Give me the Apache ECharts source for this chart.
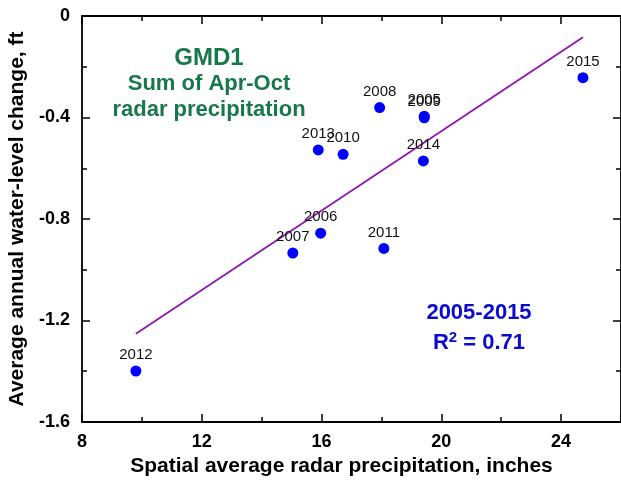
<!DOCTYPE html>
<html>
<head>
<meta charset="utf-8">
<script src="https://cdn.jsdelivr.net/npm/echarts@6/dist/echarts.min.js"></script>
<style>html,body{margin:0;padding:0;background:#fff;}#c{width:621px;height:480px;}</style>
</head>
<body>
<div id="c"></div>
<script>
// ---- data ----
var years  = ['2005','2006','2007','2008','2009','2010','2011','2012','2013','2014','2015'];
var precip = [19.43, 15.97, 15.04, 17.94, 19.43, 16.72, 18.08, 9.80, 15.89, 19.40, 24.73];
var change = [-0.395, -0.856, -0.934, -0.361, -0.401, -0.545, -0.916, -1.399, -0.528, -0.571, -0.243];
var xTicks = [8, 12, 16, 20, 24];
var yTicks = [0, -0.4, -0.8, -1.2, -1.6];
var titleLines = ['GMD1', 'Sum of Apr-Oct', 'radar precipitation'];
var statLines = ['2005-2015', 'R2 = 0.71'];

// least-squares fit computed from the data
var n = precip.length, mx = 0, my = 0;
for (var i = 0; i < n; i++) { mx += precip[i]; my += change[i]; }
mx /= n; my /= n;
var sxy = 0, sxx = 0;
for (var i = 0; i < n; i++) { sxy += (precip[i]-mx)*(change[i]-my); sxx += (precip[i]-mx)*(precip[i]-mx); }
var slope = sxy / sxx, icpt = my - slope * mx;
var xmin = Math.min.apply(null, precip), xmax = Math.max.apply(null, precip);
var fitLine = [[xmin, icpt + slope*xmin], [xmax, icpt + slope*xmax]];

var pts = years.map(function(y, i){ return {value:[precip[i], change[i]], name:y}; });

var FONT = '"Liberation Sans", Arial, sans-serif';
var axisBase = {
  axisLine: {show: true, onZero: false, lineStyle: {color: '#000', width: 1.8}},
  axisTick: {show: true, inside: true, length: 8, lineStyle: {color: '#000', width: 1.5}},
  minorTick: {show: true, splitNumber: 2, length: 5, lineStyle: {color: '#000', width: 1.5}},
  splitLine: {show: false},
  minorSplitLine: {show: false}
};
function ax(o){ var r = JSON.parse(JSON.stringify(axisBase)); for (var k in o) r[k] = o[k]; return r; }

var chart = echarts.init(document.getElementById('c'), null, {renderer: 'canvas'});
chart.setOption({
  animation: false,
  backgroundColor: '#fff',
  grid: {left: 82, right: 0, top: 16, bottom: 58, containLabel: false, outerBoundsMode: 'none'},
  xAxis: [
    ax({type: 'value', min: 8, max: 26, interval: 4, position: 'bottom',
        name: 'Spatial average radar precipitation, inches', nameLocation: 'middle', nameGap: 32,
        nameTextStyle: {fontFamily: FONT, fontWeight: 'bold', fontSize: 21, color: '#000', padding: [0, 20, 0, 0]},
        axisLabel: {fontFamily: FONT, fontWeight: 'bold', fontSize: 18, color: '#000', margin: 11,
          formatter: function(v){ return xTicks.indexOf(v) >= 0 ? String(v) : ''; }}}),
    ax({type: 'value', min: 8, max: 26, interval: 4, position: 'top', axisLabel: {show: false}})
  ],
  yAxis: [
    ax({type: 'value', min: -1.6, max: 0, interval: 0.4, position: 'left',
        name: 'Average annual water-level change, ft', nameLocation: 'middle', nameGap: 53, nameRotate: 90,
        nameTextStyle: {fontFamily: FONT, fontWeight: 'bold', fontSize: 21, color: '#000'},
        axisLabel: {fontFamily: FONT, fontWeight: 'bold', fontSize: 18, color: '#000', margin: 12,
          formatter: function(v){ var r = Math.round(v*10)/10; for (var j=0;j<yTicks.length;j++) if (Math.abs(yTicks[j]-r)<1e-9) return String(yTicks[j]); return ''; }}}),
    ax({type: 'value', min: -1.6, max: 0, interval: 0.4, position: 'right', axisLabel: {show: false}})
  ],
  series: [
    {type: 'line', data: fitLine, symbol: 'none', silent: true,
     lineStyle: {color: '#8e16b0', width: 1.8}, z: 2},
    {type: 'scatter', data: pts, symbol: 'circle', symbolSize: 11,
     itemStyle: {color: '#0000ff', opacity: 1}, z: 3,
     label: {show: true, position: 'top', distance: 3, formatter: '{b}',
             fontFamily: FONT, fontSize: 15, color: '#111'}}
  ],
  graphic: [
    {type: 'text', x: 209, y: 58, style: {text: titleLines[0], fontFamily: FONT, fontWeight: 'bold', fontSize: 24, fill: '#17784b', textAlign: 'center', textVerticalAlign: 'middle'}},
    {type: 'text', x: 209, y: 84, style: {text: titleLines[1], fontFamily: FONT, fontWeight: 'bold', fontSize: 22, fill: '#17784b', textAlign: 'center', textVerticalAlign: 'middle'}},
    {type: 'text', x: 209, y: 110, style: {text: titleLines[2], fontFamily: FONT, fontWeight: 'bold', fontSize: 22, fill: '#17784b', textAlign: 'center', textVerticalAlign: 'middle'}},
    {type: 'text', x: 479, y: 313, style: {text: statLines[0], fontFamily: FONT, fontWeight: 'bold', fontSize: 22, fill: '#0a0ad0', textAlign: 'center', textVerticalAlign: 'middle'}},
    {type: 'text', x: 479, y: 342, style: {
       text: '{a|R}{s|2}{a| = 0.71}', textAlign: 'center', textVerticalAlign: 'middle', fill: '#0a0ad0',
       rich: {a: {fontFamily: FONT, fontWeight: 'bold', fontSize: 22, fill: '#0a0ad0', verticalAlign: 'bottom'},
              s: {fontFamily: FONT, fontWeight: 'bold', fontSize: 15, fill: '#0a0ad0', padding: [0,0,9,0], verticalAlign: 'bottom'}}}}
  ]
});
</script>
</body>
</html>
